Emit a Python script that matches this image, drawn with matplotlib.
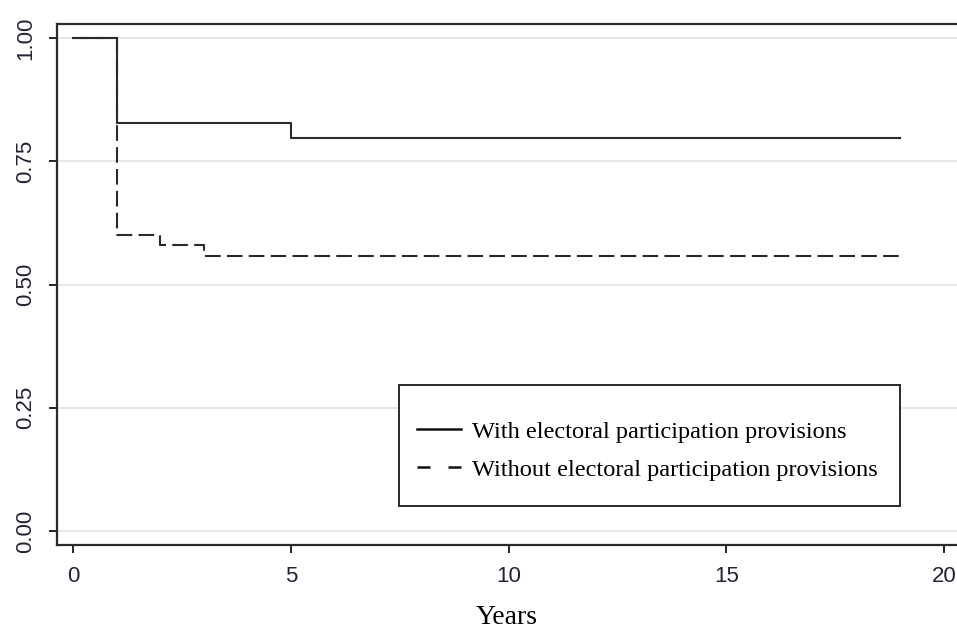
import numpy as np
import matplotlib.pyplot as plt
from matplotlib.patches import Rectangle
from matplotlib.lines import Line2D

# survival estimates (step functions)
years_with = [0, 1, 5, 19]
surv_with = [1.0, 0.828, 0.797, 0.797]
years_without = [0, 1, 2, 3, 19]
surv_without = [1.0, 0.60, 0.58, 0.558, 0.558]

yticks = [0.0, 0.25, 0.5, 0.75, 1.0]
ytick_labels = ['0.00', '0.25', '0.50', '0.75', '1.00']
xticks = [0, 5, 10, 15, 20]
labels = ['With electoral participation provisions',
          'Without electoral participation provisions']

plt.rcParams['font.family'] = ['Liberation Sans', 'DejaVu Sans']

fig = plt.figure(figsize=(9.57, 6.32), dpi=100)
ax = fig.add_axes([57 / 957, 87 / 632, 900 / 957, 521 / 632])

for y in yticks:
    ax.axhline(y, color='#e3e3e3', lw=1.2, zorder=0)

ax.step(years_with, surv_with, where='post', color='#2a2a2a', lw=1.5)
ax.step(years_without, surv_without, where='post', color='#2a2a2a', lw=1.5,
        dashes=(7.5, 3))

ax.set_xlim(-0.37, 20.3)
ax.set_ylim(-0.028, 1.028)
ax.set_xticks(xticks)
ax.set_yticks(yticks)
ax.set_yticklabels(ytick_labels, rotation=90, va='center')
ax.tick_params(axis='both', labelsize=16, width=1.4, length=6,
               colors='#222233')
ax.tick_params(axis='y', pad=9)
ax.tick_params(axis='x', pad=9)
ax.spines['right'].set_visible(False)
for s in ['left', 'bottom', 'top']:
    ax.spines[s].set_linewidth(1.6)
    ax.spines[s].set_color('#2a2a2a')

ax.set_xlabel('Years', family='Liberation Serif', fontsize=20, labelpad=13)

# legend frame: pixels x 399..900, y 385..506 (axes spans x 57.., y 24..545)
ax.add_patch(Rectangle((342 / 900, (545 - 506) / 521), 501 / 900, 121 / 521,
                       transform=ax.transAxes, fill=True, facecolor='white',
                       edgecolor='#2a2a2a', lw=1.4, zorder=4))
handles = [Line2D([], [], color='#111111', lw=1.8),
           Line2D([], [], color='#111111', lw=1.8, dashes=(5.2, 7.2))]
leg = ax.legend(handles, labels, loc='center left',
                bbox_to_anchor=(360 / 900, (545 - 450.5) / 521),
                prop={'family': 'Liberation Serif', 'size': 17.6},
                frameon=False, handlelength=1.8, handletextpad=0.45,
                labelspacing=0.65, borderpad=0, borderaxespad=0)
leg.set_zorder(5)

fig.savefig('out.png', dpi=100)
